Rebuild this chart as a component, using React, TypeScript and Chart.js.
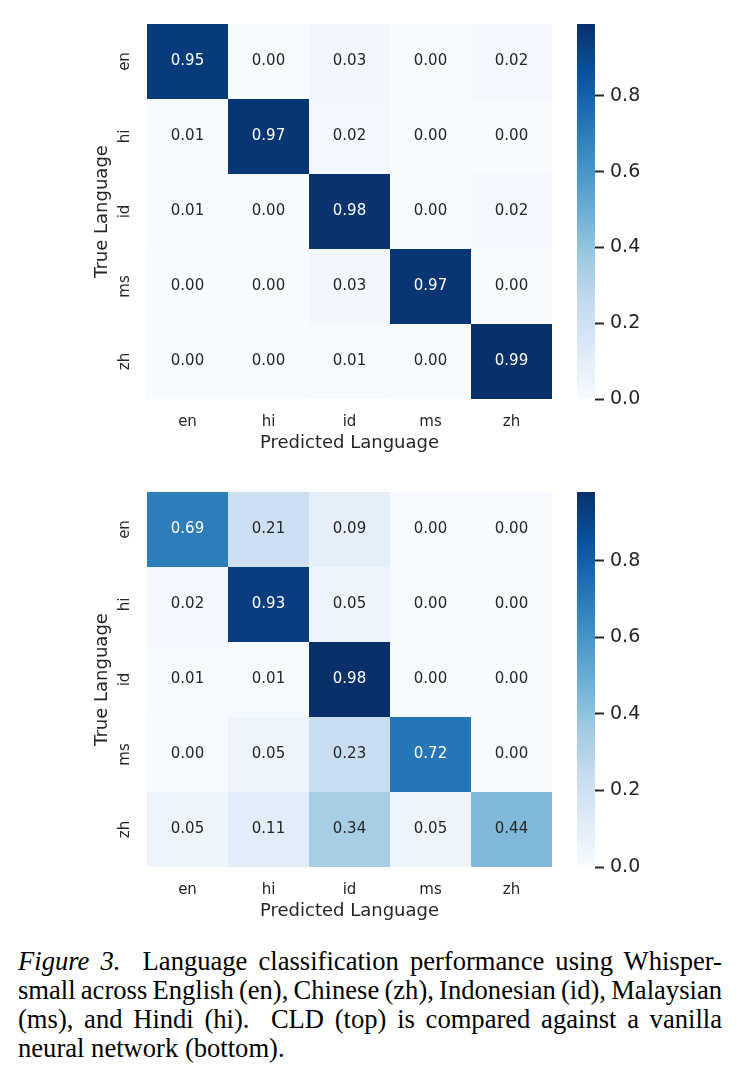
import React, { useEffect, useRef } from "react";
import { Chart, registerables } from "chart.js";

Chart.register(...registerables);

const languages = ["en", "hi", "id", "ms", "zh"];
const colorbarTicks = [0, 0.2, 0.4, 0.6, 0.8];

// rows = true language, columns = predicted language
const cldMatrix = [
  [0.95, 0.0, 0.03, 0.0, 0.02],
  [0.01, 0.97, 0.02, 0.0, 0.0],
  [0.01, 0.0, 0.98, 0.0, 0.02],
  [0.0, 0.0, 0.03, 0.97, 0.0],
  [0.0, 0.0, 0.01, 0.0, 0.99],
];

const vanillaMatrix = [
  [0.69, 0.21, 0.09, 0.0, 0.0],
  [0.02, 0.93, 0.05, 0.0, 0.0],
  [0.01, 0.01, 0.98, 0.0, 0.0],
  [0.0, 0.05, 0.23, 0.72, 0.0],
  [0.05, 0.11, 0.34, 0.05, 0.44],
];

const xTitle = "Predicted Language";
const yTitle = "True Language";

const BLUES: number[][] = [
  [247, 251, 255],
  [222, 235, 247],
  [198, 219, 239],
  [158, 202, 225],
  [107, 174, 214],
  [66, 146, 198],
  [33, 113, 181],
  [8, 81, 156],
  [8, 48, 107],
];

function bluesRgb(t: number): number[] {
  const c = Math.max(0, Math.min(1, t));
  const pos = c * (BLUES.length - 1);
  const i = Math.min(BLUES.length - 2, Math.floor(pos));
  const f = pos - i;
  const a = BLUES[i];
  const b = BLUES[i + 1];
  return [0, 1, 2].map((k) => a[k] + (b[k] - a[k]) * f);
}
function rgbStr(c: number[]) {
  return `rgb(${Math.round(c[0])},${Math.round(c[1])},${Math.round(c[2])})`;
}
function luminance(c: number[]) {
  const lin = c.map((v) => {
    const s = v / 255;
    return s <= 0.03928 ? s / 12.92 : Math.pow((s + 0.055) / 1.055, 2.4);
  });
  return 0.2126 * lin[0] + 0.7152 * lin[1] + 0.0722 * lin[2];
}

const FONT = "'DejaVu Sans', sans-serif";
const TEXT = "#262626";

function Heatmap({ matrix, top }: { matrix: number[][]; top: number }) {
  const hmRef = useRef<HTMLCanvasElement>(null);
  const cbRef = useRef<HTMLCanvasElement>(null);

  useEffect(() => {
    const vmax = Math.max(...matrix.flat());
    const vmin = 0;
    const norm = (v: number) => (v - vmin) / (vmax - vmin);

    const annotPlugin = {
      id: "annot",
      afterDatasetsDraw(chart: any) {
        const ctx = chart.ctx;
        ctx.save();
        ctx.font = `15px ${FONT}`;
        ctx.textAlign = "center";
        ctx.textBaseline = "middle";
        chart.data.datasets.forEach((ds: any, i: number) => {
          const meta = chart.getDatasetMeta(i);
          meta.data.forEach((el: any, j: number) => {
            const v = ds.values[j];
            const col = bluesRgb(norm(v));
            ctx.fillStyle = luminance(col) > 0.408 ? TEXT : "#ffffff";
            const p = el.getCenterPoint();
            ctx.fillText(v.toFixed(2), p.x, p.y);
          });
        });
        ctx.restore();
      },
    };

    const hm = new Chart(hmRef.current!, {
      type: "bar",
      data: {
        labels: languages,
        datasets: matrix.map((row, i) => ({
          label: languages[i],
          data: row.map(() => [i - 0.5, i + 0.5]),
          values: row,
          backgroundColor: row.map((v) => rgbStr(bluesRgb(norm(v)))),
          borderWidth: 0,
          grouped: false,
          categoryPercentage: 1,
          barPercentage: 1,
          inflateAmount: 0,
        })) as any,
      },
      options: {
        responsive: false,
        maintainAspectRatio: false,
        animation: false,
        layout: { padding: { top: 24, right: 8, left: 0, bottom: 0 } },
        plugins: { legend: { display: false }, tooltip: { enabled: false } },
        scales: {
          x: {
            type: "category",
            grid: { display: false, drawTicks: false },
            border: { display: false },
            ticks: { color: TEXT, font: { family: FONT, size: 15 }, padding: 14, maxRotation: 0 },
            title: {
              display: true,
              text: xTitle,
              color: TEXT,
              font: { family: FONT, size: 18 },
              padding: { top: 0, bottom: 6 },
            },
            afterFit: (s: any) => {
              s.height = 61;
            },
          },
          y: {
            type: "linear",
            min: -0.5,
            max: matrix.length - 0.5,
            reverse: true,
            grid: { display: false, drawTicks: false },
            border: { display: false },
            afterBuildTicks: (s: any) => {
              s.ticks = languages.map((_, i) => ({ value: i }));
            },
            ticks: {
              color: TEXT,
              font: { family: FONT, size: 15 },
              padding: 11,
              minRotation: 90,
              maxRotation: 90,
              crossAlign: "center",
              callback: (v: any) => languages[Math.round(Number(v))] ?? "",
            },
            title: {
              display: true,
              text: yTitle,
              color: TEXT,
              font: { family: FONT, size: 18 },
              padding: { top: 92, bottom: 0 },
            },
            afterFit: (s: any) => {
              s.width = 147;
            },
          },
        },
      },
      plugins: [annotPlugin],
    } as any);

    const cb = new Chart(cbRef.current!, {
      type: "bar",
      data: {
        labels: [""],
        datasets: [
          {
            data: [vmax],
            borderWidth: 0,
            categoryPercentage: 1,
            barPercentage: 1,
            inflateAmount: 0,
            backgroundColor: (c: any) => {
              const area = c.chart.chartArea;
              if (!area) return rgbStr(BLUES[4]);
              const g = c.chart.ctx.createLinearGradient(0, area.bottom, 0, area.top);
              BLUES.forEach((col, k) => g.addColorStop(k / (BLUES.length - 1), rgbStr(col)));
              return g;
            },
          },
        ],
      },
      options: {
        responsive: false,
        maintainAspectRatio: false,
        animation: false,
        layout: { padding: { top: 24, right: 0, left: 12, bottom: 61 } },
        plugins: { legend: { display: false }, tooltip: { enabled: false } },
        scales: {
          x: { display: false },
          y: {
            type: "linear",
            position: "right",
            min: vmin,
            max: vmax,
            border: { display: false },
            grid: {
              display: true,
              drawOnChartArea: false,
              drawTicks: true,
              tickLength: 9,
              tickWidth: 2,
              tickColor: TEXT,
            },
            afterBuildTicks: (s: any) => {
              s.ticks = colorbarTicks.map((v) => ({ value: v }));
            },
            ticks: {
              color: TEXT,
              font: { family: FONT, size: 19 },
              padding: 6,
              callback: (v: any) => Number(v).toFixed(1),
            },
            afterFit: (s: any) => {
              s.width = 144;
            },
          },
        },
      },
    } as any);

    return () => {
      hm.destroy();
      cb.destroy();
    };
  }, [matrix]);

  return (
    <>
      <canvas
        ref={hmRef}
        width={560}
        height={460}
        style={{ position: "absolute", left: 0, top, width: 560, height: 460 }}
      />
      <canvas
        ref={cbRef}
        width={174}
        height={460}
        style={{ position: "absolute", left: 565, top, width: 174, height: 460 }}
      />
    </>
  );
}

const lineStyle: React.CSSProperties = {
  whiteSpace: "nowrap",
  textAlign: "justify",
  textAlignLast: "justify" as any,
  height: 29,
};

export default function App() {
  return (
    <div
      style={{
        position: "absolute",
        left: 0,
        top: 0,
        width: 739,
        height: 1082,
        background: "#ffffff",
        overflow: "hidden",
      }}
    >
      <Heatmap matrix={cldMatrix} top={0} />
      <Heatmap matrix={vanillaMatrix} top={468} />
      <div
        style={{
          position: "absolute",
          left: 18,
          top: 947,
          width: 704,
          fontFamily: "'Liberation Serif', 'Times New Roman', serif",
          fontSize: 26.6,
          lineHeight: "29px",
          color: "#000",
        }}
      >
        <div style={lineStyle}>
          <i>Figure 3.</i>&nbsp; Language classification performance using Whisper-
        </div>
        <div style={{ ...lineStyle, wordSpacing: -2 }}>
          small across English (en), Chinese (zh), Indonesian (id), Malaysian
        </div>
        <div style={lineStyle}>(ms), and Hindi (hi).&nbsp; CLD (top) is compared against a vanilla</div>
        <div style={{ whiteSpace: "nowrap", height: 29 }}>neural network (bottom).</div>
      </div>
    </div>
  );
}
